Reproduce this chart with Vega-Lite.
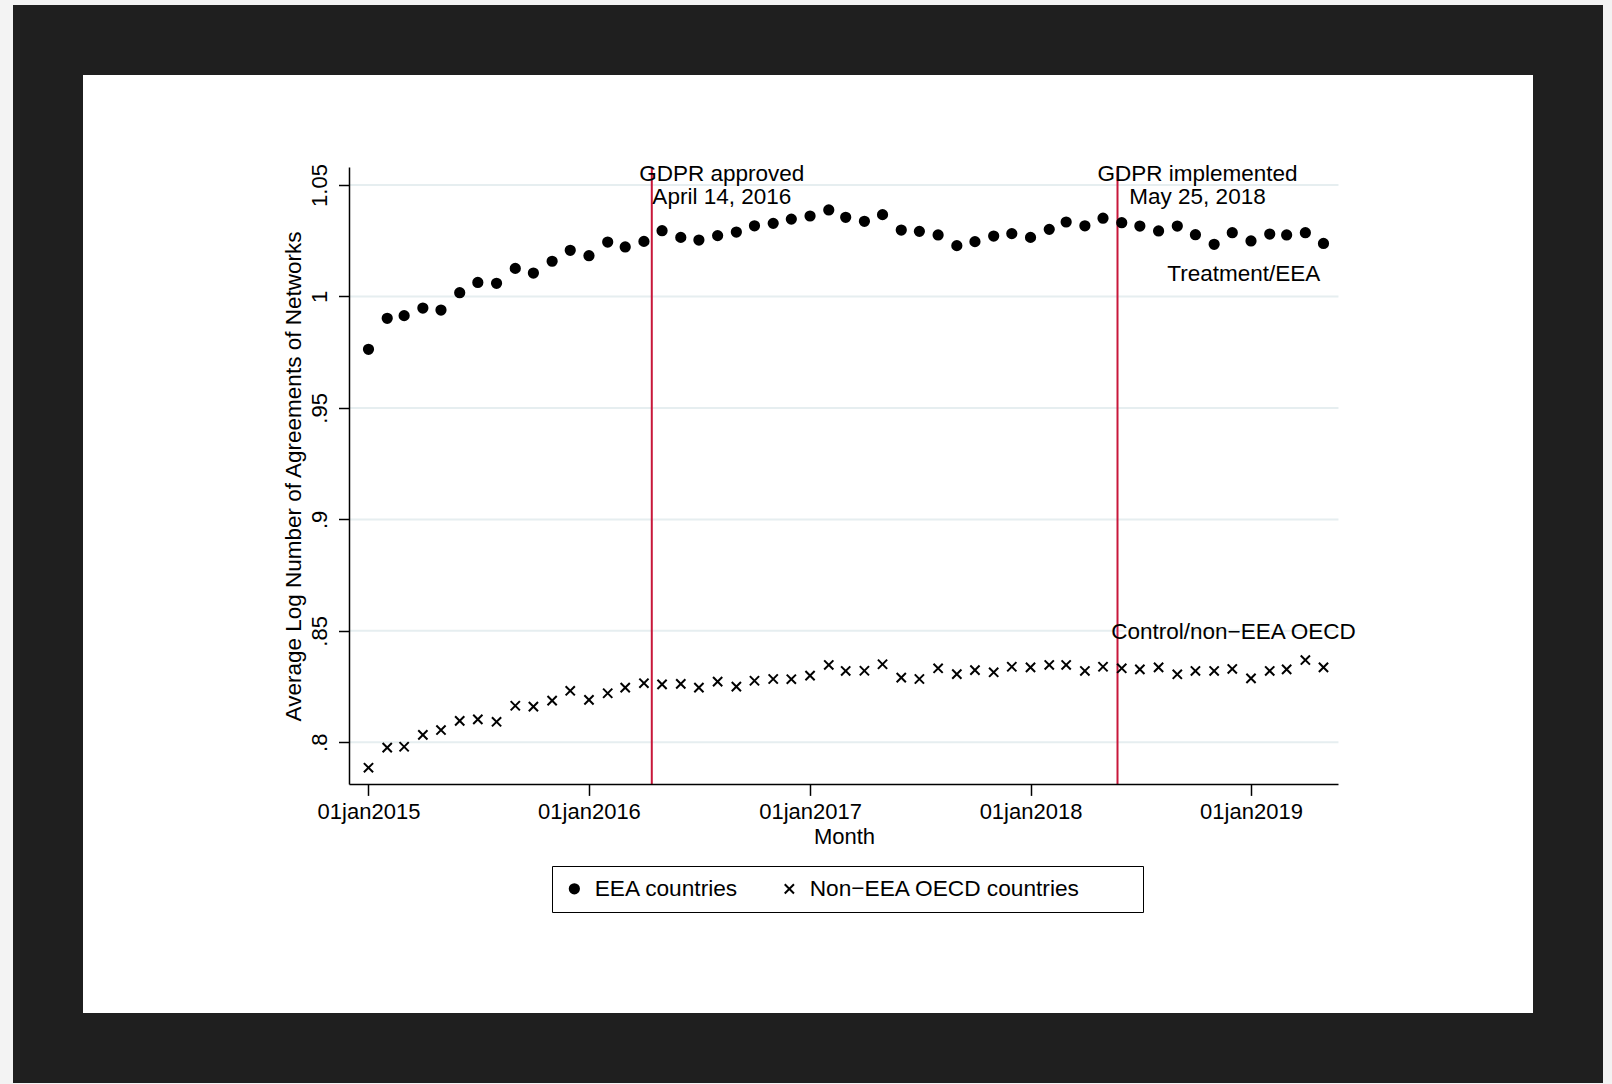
{
  "$schema": "https://vega.github.io/schema/vega-lite/v6.json",
  "width": 1520,
  "height": 1008,
  "autosize": {"type": "none"},
  "padding": {"left": 48, "top": 40, "right": 44, "bottom": 36},
  "background": "#f3f3f3",
  "config": {
    "view": {"fill": "white", "stroke": "#1f1f1f", "strokeWidth": 70},
    "font": "Liberation Sans",
    "text": {"font": "Liberation Sans", "color": "black", "fontSize": 22.5}
  },
  "datasets": {
    "series": [
      {"month": "2015-01-01", "series": "EEA countries", "value": 0.9763},
      {"month": "2015-02-01", "series": "EEA countries", "value": 0.9902},
      {"month": "2015-03-01", "series": "EEA countries", "value": 0.9914},
      {"month": "2015-04-01", "series": "EEA countries", "value": 0.9948},
      {"month": "2015-05-01", "series": "EEA countries", "value": 0.9939},
      {"month": "2015-06-01", "series": "EEA countries", "value": 1.0017},
      {"month": "2015-07-01", "series": "EEA countries", "value": 1.0063},
      {"month": "2015-08-01", "series": "EEA countries", "value": 1.0059},
      {"month": "2015-09-01", "series": "EEA countries", "value": 1.0126},
      {"month": "2015-10-01", "series": "EEA countries", "value": 1.0105},
      {"month": "2015-11-01", "series": "EEA countries", "value": 1.0158},
      {"month": "2015-12-01", "series": "EEA countries", "value": 1.0207},
      {"month": "2016-01-01", "series": "EEA countries", "value": 1.0183},
      {"month": "2016-02-01", "series": "EEA countries", "value": 1.0244},
      {"month": "2016-03-01", "series": "EEA countries", "value": 1.0222},
      {"month": "2016-04-01", "series": "EEA countries", "value": 1.0247},
      {"month": "2016-05-01", "series": "EEA countries", "value": 1.0295},
      {"month": "2016-06-01", "series": "EEA countries", "value": 1.0265},
      {"month": "2016-07-01", "series": "EEA countries", "value": 1.0253},
      {"month": "2016-08-01", "series": "EEA countries", "value": 1.0273},
      {"month": "2016-09-01", "series": "EEA countries", "value": 1.0289},
      {"month": "2016-10-01", "series": "EEA countries", "value": 1.0317},
      {"month": "2016-11-01", "series": "EEA countries", "value": 1.0328},
      {"month": "2016-12-01", "series": "EEA countries", "value": 1.0347},
      {"month": "2017-01-01", "series": "EEA countries", "value": 1.0361},
      {"month": "2017-02-01", "series": "EEA countries", "value": 1.0388},
      {"month": "2017-03-01", "series": "EEA countries", "value": 1.0355},
      {"month": "2017-04-01", "series": "EEA countries", "value": 1.0337},
      {"month": "2017-05-01", "series": "EEA countries", "value": 1.0367},
      {"month": "2017-06-01", "series": "EEA countries", "value": 1.0298},
      {"month": "2017-07-01", "series": "EEA countries", "value": 1.0292},
      {"month": "2017-08-01", "series": "EEA countries", "value": 1.0276},
      {"month": "2017-09-01", "series": "EEA countries", "value": 1.0228},
      {"month": "2017-10-01", "series": "EEA countries", "value": 1.0246},
      {"month": "2017-11-01", "series": "EEA countries", "value": 1.0271},
      {"month": "2017-12-01", "series": "EEA countries", "value": 1.0282},
      {"month": "2018-01-01", "series": "EEA countries", "value": 1.0265},
      {"month": "2018-02-01", "series": "EEA countries", "value": 1.0301},
      {"month": "2018-03-01", "series": "EEA countries", "value": 1.0334},
      {"month": "2018-04-01", "series": "EEA countries", "value": 1.0317},
      {"month": "2018-05-01", "series": "EEA countries", "value": 1.0351},
      {"month": "2018-06-01", "series": "EEA countries", "value": 1.0331},
      {"month": "2018-07-01", "series": "EEA countries", "value": 1.0316},
      {"month": "2018-08-01", "series": "EEA countries", "value": 1.0294},
      {"month": "2018-09-01", "series": "EEA countries", "value": 1.0316},
      {"month": "2018-10-01", "series": "EEA countries", "value": 1.0277},
      {"month": "2018-11-01", "series": "EEA countries", "value": 1.0234},
      {"month": "2018-12-01", "series": "EEA countries", "value": 1.0286},
      {"month": "2019-01-01", "series": "EEA countries", "value": 1.0249},
      {"month": "2019-02-01", "series": "EEA countries", "value": 1.0280},
      {"month": "2019-03-01", "series": "EEA countries", "value": 1.0276},
      {"month": "2019-04-01", "series": "EEA countries", "value": 1.0286},
      {"month": "2019-05-01", "series": "EEA countries", "value": 1.0238},
      {"month": "2015-01-01", "series": "Non−EEA OECD countries", "value": 0.7886},
      {"month": "2015-02-01", "series": "Non−EEA OECD countries", "value": 0.7976},
      {"month": "2015-03-01", "series": "Non−EEA OECD countries", "value": 0.7980},
      {"month": "2015-04-01", "series": "Non−EEA OECD countries", "value": 0.8033},
      {"month": "2015-05-01", "series": "Non−EEA OECD countries", "value": 0.8055},
      {"month": "2015-06-01", "series": "Non−EEA OECD countries", "value": 0.8096},
      {"month": "2015-07-01", "series": "Non−EEA OECD countries", "value": 0.8103},
      {"month": "2015-08-01", "series": "Non−EEA OECD countries", "value": 0.8092},
      {"month": "2015-09-01", "series": "Non−EEA OECD countries", "value": 0.8164},
      {"month": "2015-10-01", "series": "Non−EEA OECD countries", "value": 0.8160},
      {"month": "2015-11-01", "series": "Non−EEA OECD countries", "value": 0.8187},
      {"month": "2015-12-01", "series": "Non−EEA OECD countries", "value": 0.8231},
      {"month": "2016-01-01", "series": "Non−EEA OECD countries", "value": 0.8190},
      {"month": "2016-02-01", "series": "Non−EEA OECD countries", "value": 0.8220},
      {"month": "2016-03-01", "series": "Non−EEA OECD countries", "value": 0.8245},
      {"month": "2016-04-01", "series": "Non−EEA OECD countries", "value": 0.8265},
      {"month": "2016-05-01", "series": "Non−EEA OECD countries", "value": 0.8260},
      {"month": "2016-06-01", "series": "Non−EEA OECD countries", "value": 0.8262},
      {"month": "2016-07-01", "series": "Non−EEA OECD countries", "value": 0.8245},
      {"month": "2016-08-01", "series": "Non−EEA OECD countries", "value": 0.8272},
      {"month": "2016-09-01", "series": "Non−EEA OECD countries", "value": 0.8250},
      {"month": "2016-10-01", "series": "Non−EEA OECD countries", "value": 0.8276},
      {"month": "2016-11-01", "series": "Non−EEA OECD countries", "value": 0.8284},
      {"month": "2016-12-01", "series": "Non−EEA OECD countries", "value": 0.8283},
      {"month": "2017-01-01", "series": "Non−EEA OECD countries", "value": 0.8299},
      {"month": "2017-02-01", "series": "Non−EEA OECD countries", "value": 0.8347},
      {"month": "2017-03-01", "series": "Non−EEA OECD countries", "value": 0.8320},
      {"month": "2017-04-01", "series": "Non−EEA OECD countries", "value": 0.8321},
      {"month": "2017-05-01", "series": "Non−EEA OECD countries", "value": 0.8350},
      {"month": "2017-06-01", "series": "Non−EEA OECD countries", "value": 0.8290},
      {"month": "2017-07-01", "series": "Non−EEA OECD countries", "value": 0.8284},
      {"month": "2017-08-01", "series": "Non−EEA OECD countries", "value": 0.8332},
      {"month": "2017-09-01", "series": "Non−EEA OECD countries", "value": 0.8306},
      {"month": "2017-10-01", "series": "Non−EEA OECD countries", "value": 0.8324},
      {"month": "2017-11-01", "series": "Non−EEA OECD countries", "value": 0.8314},
      {"month": "2017-12-01", "series": "Non−EEA OECD countries", "value": 0.8339},
      {"month": "2018-01-01", "series": "Non−EEA OECD countries", "value": 0.8336},
      {"month": "2018-02-01", "series": "Non−EEA OECD countries", "value": 0.8347},
      {"month": "2018-03-01", "series": "Non−EEA OECD countries", "value": 0.8347},
      {"month": "2018-04-01", "series": "Non−EEA OECD countries", "value": 0.8320},
      {"month": "2018-05-01", "series": "Non−EEA OECD countries", "value": 0.8339},
      {"month": "2018-06-01", "series": "Non−EEA OECD countries", "value": 0.8332},
      {"month": "2018-07-01", "series": "Non−EEA OECD countries", "value": 0.8327},
      {"month": "2018-08-01", "series": "Non−EEA OECD countries", "value": 0.8336},
      {"month": "2018-09-01", "series": "Non−EEA OECD countries", "value": 0.8305},
      {"month": "2018-10-01", "series": "Non−EEA OECD countries", "value": 0.8320},
      {"month": "2018-11-01", "series": "Non−EEA OECD countries", "value": 0.8320},
      {"month": "2018-12-01", "series": "Non−EEA OECD countries", "value": 0.8329},
      {"month": "2019-01-01", "series": "Non−EEA OECD countries", "value": 0.8287},
      {"month": "2019-02-01", "series": "Non−EEA OECD countries", "value": 0.8320},
      {"month": "2019-03-01", "series": "Non−EEA OECD countries", "value": 0.8327},
      {"month": "2019-04-01", "series": "Non−EEA OECD countries", "value": 0.8369},
      {"month": "2019-05-01", "series": "Non−EEA OECD countries", "value": 0.8336}
    ],
    "events": [
      {"event": "GDPR approved", "date": "2016-04-14"},
      {"event": "GDPR implemented", "date": "2018-05-25"}
    ],
    "ticks": [
      {"tick": 0.8}, {"tick": 0.85}, {"tick": 0.9}, {"tick": 0.95}, {"tick": 1.0}, {"tick": 1.05}
    ],
    "one": [{}]
  },
  "layer": [
    {
      "data": {"name": "ticks"},
      "mark": {"type": "rule", "color": "#e6eef0", "strokeWidth": 2},
      "encoding": {
        "x": {"datum": 1417352688000, "type": "temporal"},
        "x2": {"datum": 1558815840000},
        "y": {"field": "tick", "type": "quantitative"}
      }
    },
    {
      "data": {"name": "events"},
      "mark": {"type": "rule", "color": "#c8173a", "strokeWidth": 2},
      "encoding": {
        "x": {"field": "date", "type": "temporal"},
        "y": {"datum": 0.7811, "type": "quantitative"},
        "y2": {"datum": 1.0578}
      }
    },
    {
      "data": {"name": "series"},
      "mark": {"type": "point", "filled": true, "stroke": "black", "strokeWidth": 2, "size": 85, "opacity": 1},
      "encoding": {
        "x": {
          "field": "month", "type": "temporal",
          "scale": {"type": "utc", "domain": [1374227424000, 1591643520000], "nice": false},
          "axis": {
            "values": [
              {"year": 2015, "month": 1, "date": 1, "utc": true},
              {"year": 2016, "month": 1, "date": 1, "utc": true},
              {"year": 2017, "month": 1, "date": 1, "utc": true},
              {"year": 2018, "month": 1, "date": 1, "utc": true},
              {"year": 2019, "month": 1, "date": 1, "utc": true}
            ],
            "labelExpr": "lower(utcFormat(datum.value, '%d%b%Y'))",
            "offset": -263.6,
            "domain": false, "grid": false,
            "tickSize": 11, "tickWidth": 1.5, "tickColor": "black",
            "labelPadding": 6, "labelFontSize": 22, "labelFont": "Liberation Sans", "labelColor": "black",
            "labelFlush": false, "labelOverlap": false,
            "title": "Month", "titleFont": "Liberation Sans", "titleFontSize": 22, "titleFontWeight": "normal", "titleColor": "black",
            "titleX": 796, "titleY": 59, "titleAlign": "center", "titleBaseline": "alphabetic"
          }
        },
        "y": {
          "field": "value", "type": "quantitative",
          "scale": {"domain": [0.66286, 1.11505], "nice": false, "zero": false},
          "axis": {
            "values": [0.8, 0.85, 0.9, 0.95, 1, 1.05],
            "labelExpr": "datum.value < 1 ? substring(toString(datum.value), 1) : toString(datum.value)",
            "offset": -301.5,
            "domain": false, "grid": false,
            "tickSize": 11, "tickWidth": 1.5, "tickColor": "black",
            "labelAngle": 270, "labelAlign": "center", "labelBaseline": "alphabetic",
            "labelPadding": 11.8, "labelFontSize": 22, "labelFont": "Liberation Sans", "labelColor": "black",
            "labelFlush": false, "labelOverlap": false,
            "title": "Average Log Number of Agreements of Networks",
            "titleFont": "Liberation Sans", "titleFontSize": 22.5, "titleFontWeight": "normal", "titleColor": "black",
            "titleAngle": 270, "titleX": -48.9, "titleY": 436, "titleAlign": "center", "titleBaseline": "alphabetic"
          }
        },
        "shape": {
          "field": "series", "type": "nominal",
          "scale": {"domain": ["EEA countries", "Non−EEA OECD countries"], "range": ["circle", "M-1,-1L1,1M1,-1L-1,1"]},
          "legend": {
            "orient": "none", "legendX": 504, "legendY": 826, "direction": "horizontal", "title": null,
            "labelFontSize": 22.7, "labelFont": "Liberation Sans", "labelColor": "black", "labelLimit": 500,
            "labelExpr": "datum.label == 'EEA countries' ? datum.label : datum.label + '⠀⠀⠀'",
            "symbolSize": 85, "symbolStrokeColor": "black", "symbolStrokeWidth": 2,
            "padding": 11, "strokeColor": "black", "fillColor": "white",
            "columnPadding": 39, "labelOffset": 9
          }
        },
        "color": {
          "field": "series", "type": "nominal",
          "scale": {"domain": ["EEA countries", "Non−EEA OECD countries"], "range": ["black", "black"]},
          "legend": {
            "orient": "none", "legendX": 504, "legendY": 826, "direction": "horizontal", "title": null,
            "labelFontSize": 22.7, "labelFont": "Liberation Sans", "labelColor": "black", "labelLimit": 500,
            "labelExpr": "datum.label == 'EEA countries' ? datum.label : datum.label + '⠀⠀⠀'",
            "symbolSize": 85, "symbolStrokeColor": "black", "symbolStrokeWidth": 2,
            "padding": 11, "strokeColor": "black", "fillColor": "white",
            "columnPadding": 39, "labelOffset": 9
          }
        }
      }
    },
    {
      "data": {"name": "one"},
      "mark": {"type": "rule", "color": "black", "strokeWidth": 1.5},
      "encoding": {
        "x": {"datum": 1417352688000, "type": "temporal"},
        "y": {"datum": 0.7811, "type": "quantitative"},
        "y2": {"datum": 1.0578}
      }
    },
    {
      "data": {"name": "one"},
      "mark": {"type": "rule", "color": "black", "strokeWidth": 1.5},
      "encoding": {
        "x": {"datum": 1417352688000, "type": "temporal"},
        "x2": {"datum": 1558815840000},
        "y": {"datum": 0.7811, "type": "quantitative"}
      }
    },
    {
      "data": {"name": "one"},
      "mark": {"type": "text", "text": ["GDPR approved", "April 14, 2016"], "align": "center", "baseline": "alphabetic", "dx": 70, "lineHeight": 23, "fontSize": 22.5},
      "encoding": {
        "x": {"datum": {"year": 2016, "month": 4, "date": 14, "utc": true}, "type": "temporal"},
        "y": {"datum": 1.0516, "type": "quantitative"}
      }
    },
    {
      "data": {"name": "one"},
      "mark": {"type": "text", "text": ["GDPR implemented", "May 25, 2018"], "align": "center", "baseline": "alphabetic", "dx": 80, "lineHeight": 23, "fontSize": 22.5},
      "encoding": {
        "x": {"datum": {"year": 2018, "month": 5, "date": 25, "utc": true}, "type": "temporal"},
        "y": {"datum": 1.0516, "type": "quantitative"}
      }
    },
    {
      "data": {"name": "one"},
      "mark": {"type": "text", "text": "Treatment/EEA", "align": "center", "baseline": "alphabetic", "fontSize": 22.5},
      "encoding": {
        "x": {"datum": {"year": 2018, "month": 12, "date": 20, "utc": true}, "type": "temporal"},
        "y": {"datum": 1.0071, "type": "quantitative"}
      }
    },
    {
      "data": {"name": "one"},
      "mark": {"type": "text", "text": "Control/non−EEA OECD", "align": "center", "baseline": "alphabetic", "fontSize": 22.5},
      "encoding": {
        "x": {"datum": {"year": 2018, "month": 12, "date": 3, "utc": true}, "type": "temporal"},
        "y": {"datum": 0.8462, "type": "quantitative"}
      }
    }
  ]
}
